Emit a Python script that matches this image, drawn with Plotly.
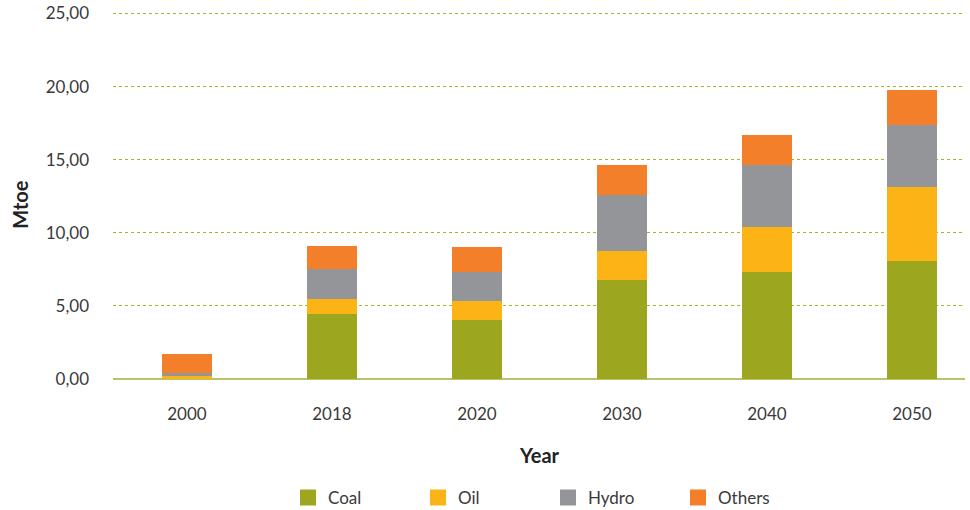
import plotly.graph_objects as go

years = ["2000", "2018", "2020", "2030", "2040", "2050"]
coal = [0.0, 4.44, 4.03, 6.76, 7.31, 8.06]
oil = [0.20, 1.02, 1.30, 1.98, 3.07, 5.05]
hydro = [0.18, 2.03, 1.98, 3.83, 4.24, 4.24]
others = [1.33, 1.59, 1.71, 2.05, 2.05, 2.39]

series = [
    ("Coal", coal, "#9ca71f"),
    ("Oil", oil, "#fbb316"),
    ("Hydro", hydro, "#939598"),
    ("Others", others, "#f37f2b"),
]

fig = go.Figure()
for name, vals, col in series:
    fig.add_trace(go.Bar(x=years, y=vals, name=name, marker_color=col,
                         marker_line_width=0, width=0.34, showlegend=False))
# legend entries (bigger square swatches)
for name, vals, col in series:
    fig.add_trace(go.Scatter(x=[None], y=[None], mode="markers", name=name,
                             marker=dict(symbol="square", size=20, color=col)))

font = "Lato, 'Open Sans', sans-serif"
W, H = 970, 510
L, R, T, B = 113, 5, 11.5, 131
pw, ph = W - L - R, H - T - B


def px_x(x):
    return (x - L) / pw


def px_y(y):
    return (H - B - y) / ph


fig.update_layout(
    barmode="stack",
    width=W, height=H,
    margin=dict(l=L, r=R, t=T, b=B, autoexpand=False),
    plot_bgcolor="white", paper_bgcolor="white",
    separators=", ",
    font=dict(family=font, size=17, color="#3a3a3a"),
    xaxis=dict(
        range=[-0.51, 5.366], automargin=False,
        showgrid=False, showline=False, ticks="", ticklabelstandoff=23,
        tickfont=dict(size=17, color="#3a3a3a"),
    ),
    yaxis=dict(
        range=[0, 25.1], tickvals=[0, 5, 10, 15, 20, 25], tickformat=".2f",
        automargin=False, ticklabeloverflow="allow",
        showgrid=True, gridcolor="#a6b32c", griddash="dot", gridwidth=1,
        zeroline=True, zerolinecolor="#b8c46a", zerolinewidth=2,
        showline=False, ticks="", ticklabelstandoff=23,
        tickfont=dict(size=17, color="#3a3a3a"),
    ),
    legend=dict(
        orientation="h", x=px_x(288), xanchor="left",
        y=px_y(498), yanchor="middle",
        font=dict(size=17, color="#3a3a3a"), entrywidth=85,
        traceorder="normal", itemsizing="trace",
    ),
    annotations=[
        dict(text="<b>Year</b>", x=px_x(539), xref="paper", y=px_y(455), yref="paper",
             xanchor="center", yanchor="middle", showarrow=False,
             font=dict(size=20, color="#222")),
        dict(text="<b>Mtoe</b>", x=px_x(20), xref="paper", y=px_y(204.5), yref="paper",
             xanchor="center", yanchor="middle", showarrow=False, textangle=-90,
             font=dict(size=20, color="#222")),
    ],
)

# remove the default 8px page margin so the figure fills the window exactly
fig.write_html("out.html",
               config={"displayModeBar": False},
               post_script="document.body.style.margin='0';"
                           "document.body.style.overflow='hidden';")
